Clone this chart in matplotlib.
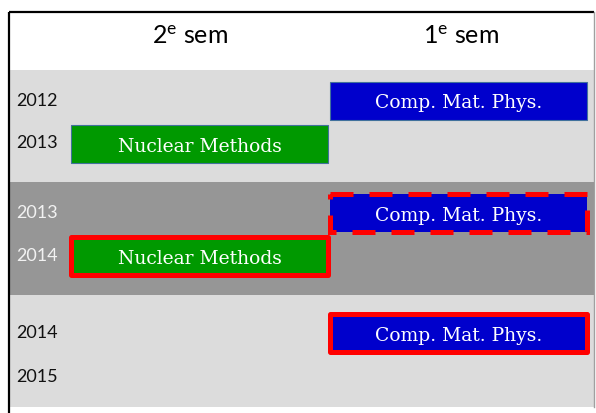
import matplotlib
matplotlib.use("Agg")
import matplotlib.pyplot as plt
from matplotlib.patches import Rectangle

# ---- data ----
semesters = ["2$^{\\mathregular{e}}$ sem", "1$^{\\mathregular{e}}$ sem"]
band_years = [["2012", "2013"], ["2013", "2014"], ["2014", "2015"]]
band_shade = ["light", "dark", "light"]
course_band = [0, 0, 1, 1, 2]
course_row = [0, 1, 0, 1, 0]
course_col = [1, 0, 1, 0, 1]
course_name = ["Comp. Mat. Phys.", "Nuclear Methods", "Comp. Mat. Phys.",
               "Nuclear Methods", "Comp. Mat. Phys."]
course_outline = ["plain", "plain", "dashed", "solid", "solid"]

# ---- style / layout ----
W, H = 596, 413
shade_color = {"light": "#dcdcdc", "dark": "#969696"}
year_color = {"light": "#111111", "dark": "#f2f2f2"}
course_color = {"Nuclear Methods": "#009900", "Comp. Mat. Phys.": "#0000cc"}
frame_left, frame_top, frame_right = 9, 12, 594
bands_top, band_h = 70, 112.3
band_row_off = [[30.5, 73.5], [30.5, 74], [38.5, 82]]
col_x0 = [71, 330]
col_w = 257
bar_h = 38
header_x = [190, 461]
header_y = 36

fig = plt.figure(figsize=(W / 100, H / 100), dpi=100)
ax = fig.add_axes([0, 0, 1, 1])
ax.set_xlim(0, W)
ax.set_ylim(H, 0)
ax.axis("off")

# bands
for b, shade in enumerate(band_shade):
    top = bands_top + b * band_h
    ax.add_patch(Rectangle((frame_left + 1, top), frame_right - frame_left - 1, band_h,
                           facecolor=shade_color[shade], edgecolor="none", zorder=1))
    for r, yr in enumerate(band_years[b]):
        ax.text(16, top + band_row_off[b][r], yr, fontsize=13, family="Lato",
                color=year_color[shade], ha="left", va="center", zorder=3)

# frame
ax.plot([frame_left, frame_left], [H, frame_top], color="black", lw=1.6, zorder=5,
        solid_capstyle="butt")
ax.plot([frame_left, frame_right], [frame_top, frame_top], color="black", lw=1.6, zorder=5,
        solid_capstyle="butt")
ax.plot([frame_right, frame_right], [frame_top, bands_top + 3 * band_h], color="#a0a0a0",
        lw=1.0, zorder=5)

# headers
for c, s in enumerate(semesters):
    ax.text(header_x[c], header_y, s, fontsize=18, family="Lato", color="black",
            ha="center", va="center", zorder=3)

# courses
for b, r, c, name, out in zip(course_band, course_row, course_col, course_name, course_outline):
    yc = bands_top + b * band_h + band_row_off[b][r]
    x0 = col_x0[c]
    if out == "plain":
        ax.add_patch(Rectangle((x0, yc - bar_h / 2), col_w, bar_h,
                               facecolor=course_color[name], edgecolor="#41719c",
                               lw=0.8, zorder=2))
    elif out == "solid":
        ax.add_patch(Rectangle((x0, yc - bar_h / 2), col_w, bar_h,
                               facecolor=course_color[name], edgecolor="#ff0000",
                               lw=3.6, joinstyle="round", zorder=2))
    else:
        ax.add_patch(Rectangle((x0, yc - bar_h / 2), col_w, bar_h,
                               facecolor=course_color[name], edgecolor="none", zorder=2))
        ax.add_patch(Rectangle((x0, yc - bar_h / 2), col_w, bar_h,
                               facecolor="none", edgecolor="#ff0000", lw=3.6,
                               linestyle=(0, (4.6, 3.2)), zorder=3))
    ax.text(x0 + col_w / 2, yc + 1, name, fontsize=13.5, family="DejaVu Serif", color="white",
            ha="center", va="center_baseline", zorder=4)

fig.savefig("out.png", dpi=100)
